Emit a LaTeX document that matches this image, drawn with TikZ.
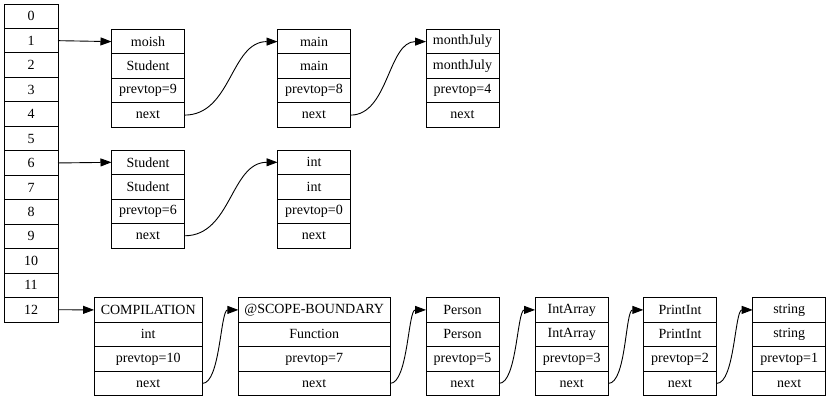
\documentclass[tikz,border=0pt]{standalone}
\usepackage{fontspec}
\setmainfont{Liberation Serif}
\usetikzlibrary{arrows.meta,positioning}

\tikzset{
  cell/.style={draw,line width=0.9pt,rectangle,inner sep=0pt,outer sep=0pt,
    minimum height=24.5pt,font=\fontsize{14}{16}\selectfont},
  link/.style={line width=0.9pt,-{Triangle[length=11pt,width=8pt]}}
}

\begin{document}
\begin{tikzpicture}[x=1pt,y=-1pt]
        \useasboundingbox (0,0) rectangle (829,400);
        % the stack of indices
        \foreach \i in {0,...,12}
          \node[cell,minimum width=54pt,minimum height=24.46pt] (a\i) at (31,{16.2+24.46*\i}) {\i};

        % the records, four cells each
        \foreach \nm/\xx/\yy/\ww/\ta/\tb/\tc in {
            moish/148/41.6/73/moish/Student/9,
            main/314/41.6/73/main/main/8,
            july/462.5/41.6/73/monthJuly/monthJuly/4,
            student/148/162.3/73/Student/Student/6,
            int/314/162.3/73/int/int/0,
            comp/148.2/309.9/108.3/COMPILATION/int/10,
            scope/314.2/309.9/151.7/@SCOPE-BOUNDARY/Function/7,
            person/462.5/309.9/73/Person/Person/5,
            intarr/571.7/309.9/73.3/IntArray/IntArray/3,
            printint/680/309.9/73.4/PrintInt/PrintInt/2,
            string/789.2/309.9/73/string/string/1}
        {
          \node[cell,minimum width=\ww pt] (\nm-1) at (\xx,\yy) {\ta};
          \node[cell,minimum width=\ww pt,below=0pt of \nm-1] (\nm-2) {\tb};
          \node[cell,minimum width=\ww pt,below=0pt of \nm-2] (\nm-3) {prevtop=\tc};
          \node[cell,minimum width=\ww pt,below=0pt of \nm-3] (\nm-4) {next};
        }

        \draw[link] (a1.east) -- (moish-1.west);
        \draw[link] (a6.east) -- (student-1.west);
        \draw[link] (a12.east) -- (comp-1.west);

        % next pointers
        \foreach \s/\t/\d in {moish/main/47, main/july/38, student/int/47,
            comp/scope/18, scope/person/18, person/intarr/18,
            intarr/printint/18, printint/string/18}
          \draw[link] (\s-4.east) .. controls +(\d,0) and +(-\d,0) .. (\t-1.west);
\end{tikzpicture}
\end{document}
